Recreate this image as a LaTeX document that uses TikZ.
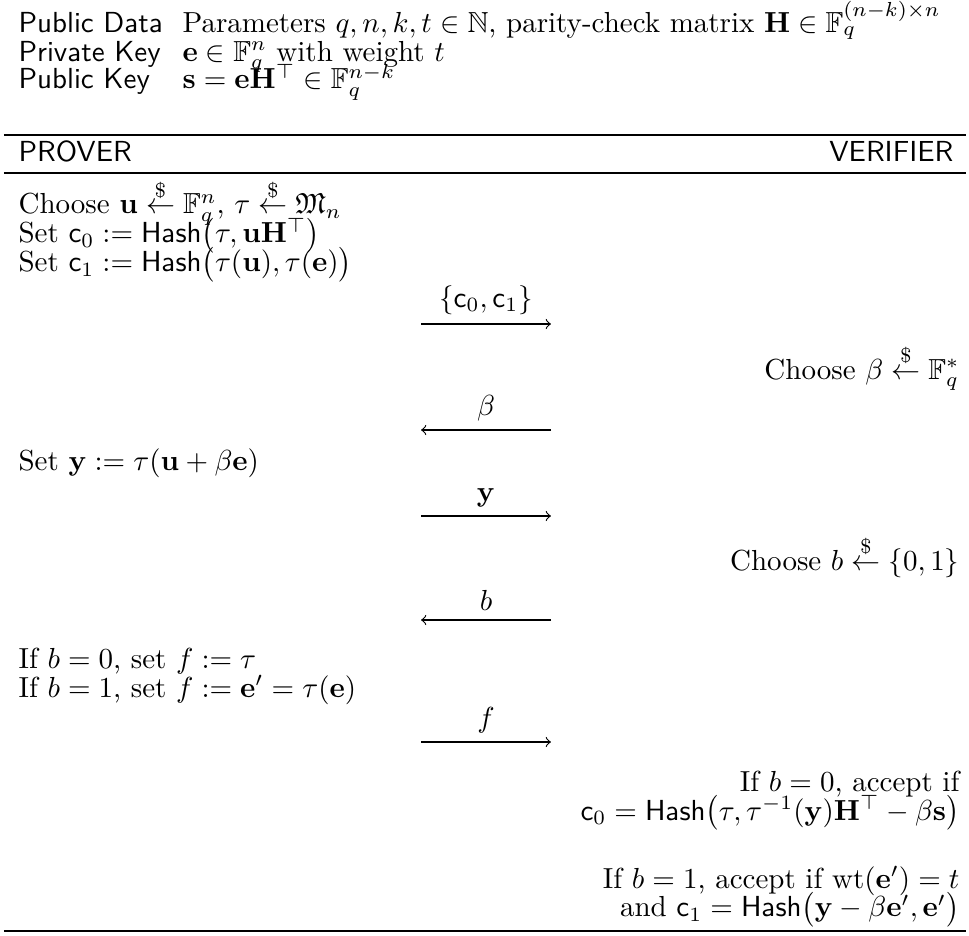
\documentclass[tikz,border=0pt]{standalone}
\usepackage{amsmath}
\usepackage{amssymb}
\usepackage{tikz}
\usetikzlibrary{positioning}

\newcommand{\sample}{\overset{\$}{\leftarrow}}
\newcommand{\hsh}{\mathsf{Hash}}

\begin{document}
\begin{tikzpicture}[x=0.3448pt, y=-0.3448pt,
    lbl/.style={anchor=base west, inner sep=0pt, font=\sffamily},
    ptxt/.style={anchor=base west, inner sep=0pt},
    vtxt/.style={anchor=base east, inner sep=0pt},
    rule/.style={line width=0.4pt},
    msg/.style={->, line width=0.4pt}]
    \useasboundingbox (0,0) rectangle (969,936);

    % public data
    \node [lbl] (pubdata) at (18,32) {Public Data};
    \node [ptxt] (params) at (182,32) {Parameters $q,n,k,t\in\mathbb{N}$, parity-check matrix $\mathbf{H}\in\mathbb{F}_q^{(n-k)\times n}$};
    \node [lbl] (privkey) at (18,61) {Private Key};
    \node [ptxt] (privval) at (182,61) {$\mathbf{e}\in\mathbb{F}_q^n$ with weight $t$};
    \node [lbl] (pubkey) at (18,89) {Public Key};
    \node [ptxt] (pubval) at (182,89) {$\mathbf{s}=\mathbf{e}\mathbf{H}^\top\in\mathbb{F}_q^{n-k}$};

    \coordinate (r1w) at (4,135);
    \coordinate (r1e) at (966,135);
    \draw [rule] (r1w) -- (r1e);
    \node [lbl] (prover) at (18,162) {PROVER};
    \node [vtxt, font=\sffamily] (verifier) at (954,162) {VERIFIER};
    \coordinate (r2w) at (4,173);
    \coordinate (r2e) at (966,173);
    \draw [rule] (r2w) -- (r2e);

    % commitment
    \node [ptxt] (choose) at (18,214) {Choose $\mathbf{u}\sample\mathbb{F}_q^n$, $\tau\sample\mathfrak{M}_n$};
    \node [ptxt] (setc0) at (18,243) {Set $\mathsf{c}_0:=\hsh\bigl(\tau,\mathbf{u}\mathbf{H}^\top\bigr)$};
    \node [ptxt] (setc1) at (18,272) {Set $\mathsf{c}_1:=\hsh\bigl(\tau(\mathbf{u}),\tau(\mathbf{e})\bigr)$};
    \coordinate (m1w) at (421,324);
    \coordinate (m1e) at (551,324);
    \draw [msg] (m1w) -- node[above, inner sep=3pt]{$\{\mathsf{c}_0,\mathsf{c}_1\}$} (m1e);

    % first challenge
    \node [vtxt] (choosebeta) at (960,379) {Choose $\beta\sample\mathbb{F}_q^*$};
    \coordinate (m2w) at (421,430);
    \coordinate (m2e) at (551,430);
    \draw [msg] (m2e) -- node[above, inner sep=3pt]{$\beta$} (m2w);

    \node [ptxt] (sety) at (18,471) {Set $\mathbf{y}:=\tau(\mathbf{u}+\beta\mathbf{e})$};
    \coordinate (m3w) at (421,516);
    \coordinate (m3e) at (551,516);
    \draw [msg] (m3w) -- node[above, inner sep=3pt]{$\mathbf{y}$} (m3e);

    % second challenge
    \node [vtxt] (chooseb) at (960,570) {Choose $b\sample\{0,1\}$};
    \coordinate (m4w) at (421,620);
    \coordinate (m4e) at (551,620);
    \draw [msg] (m4e) -- node[above, inner sep=3pt]{$b$} (m4w);

    \node [ptxt] (resp0) at (18,668) {If $b=0$, set $f:=\tau$};
    \node [ptxt] (resp1) at (18,697) {If $b=1$, set $f:=\mathbf{e}'=\tau(\mathbf{e})$};
    \coordinate (m5w) at (421,742);
    \coordinate (m5e) at (551,742);
    \draw [msg] (m5w) -- node[above, inner sep=3pt]{$f$} (m5e);

    % verification
    \node [vtxt] (check0) at (960,791) {If $b=0$, accept if};
    \node [vtxt] (check0b) at (960,820) {$\mathsf{c}_0=\hsh\bigl(\tau,\tau^{-1}(\mathbf{y})\mathbf{H}^\top-\beta\mathbf{s}\bigr)$};
    \node [vtxt] (check1) at (960,888) {If $b=1$, accept if $\mathrm{wt}(\mathbf{e}')=t$};
    \node [vtxt] (check1b) at (960,917) {and $\mathsf{c}_1=\hsh\bigl(\mathbf{y}-\beta\mathbf{e}',\mathbf{e}'\bigr)$};

    \coordinate (r3w) at (4,931);
    \coordinate (r3e) at (966,931);
    \draw [rule] (r3w) -- (r3e);
\end{tikzpicture}
\end{document}
